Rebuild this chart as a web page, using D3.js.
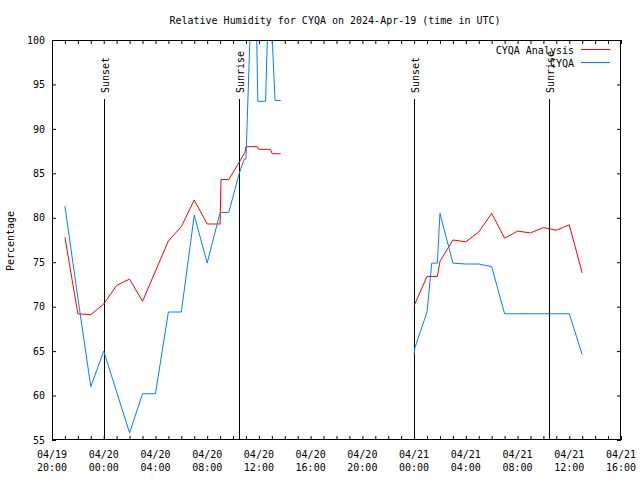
<!DOCTYPE html>
<html><head><meta charset="utf-8">
<script src="https://cdn.jsdelivr.net/npm/d3@7"></script>
<style>
body{margin:0;background:#fff;}
text{font-family:"DejaVu Sans Mono","Liberation Mono",monospace;font-size:10px;fill:#000;}
</style></head>
<body><svg id="c" width="640" height="480"></svg>
<script>
const title = "Relative Humidity for CYQA on 2024-Apr-19 (time in UTC)";
const yLabel = "Percentage";
const seriesNames = ["CYQA Analysis", "CYQA"];
const seriesColors = ["#ff0000", "#0080ff"];
const xStart = "2024-04-19T20:00Z", xEnd = "2024-04-21T16:00Z";
const yTicks = [55, 60, 65, 70, 75, 80, 85, 90, 95, 100];
const sunEvents = [["Sunset", "2024-04-20T00:02Z"], ["Sunrise", "2024-04-20T10:28Z"],
                   ["Sunset", "2024-04-21T00:02Z"], ["Sunrise", "2024-04-21T10:26Z"]];

// Analysis (red); null breaks the line
const analysisTimes = [
 "2024-04-19T21:00Z","2024-04-19T22:00Z","2024-04-19T23:00Z","2024-04-20T00:00Z","2024-04-20T01:00Z",
 "2024-04-20T02:00Z","2024-04-20T03:00Z","2024-04-20T04:00Z","2024-04-20T05:00Z","2024-04-20T06:00Z",
 "2024-04-20T07:00Z","2024-04-20T08:00Z","2024-04-20T09:00Z","2024-04-20T09:04Z","2024-04-20T09:40Z",
 "2024-04-20T10:30Z","2024-04-20T10:56Z","2024-04-20T11:00Z","2024-04-20T11:53Z","2024-04-20T12:00Z",
 "2024-04-20T12:54Z","2024-04-20T13:02Z","2024-04-20T13:41Z",
 "2024-04-20T18:00Z",
 "2024-04-21T00:00Z","2024-04-21T01:00Z","2024-04-21T01:48Z","2024-04-21T02:00Z","2024-04-21T03:00Z",
 "2024-04-21T04:00Z","2024-04-21T05:00Z","2024-04-21T06:00Z","2024-04-21T07:00Z","2024-04-21T08:00Z",
 "2024-04-21T09:00Z","2024-04-21T10:00Z","2024-04-21T11:00Z","2024-04-21T12:00Z","2024-04-21T13:00Z"];
const analysisValues = [
 77.8,69.2,69.1,70.3,72.4,
 73.1,70.6,74.0,77.4,79.0,
 82.0,79.3,79.3,84.3,84.3,
 86.3,87.4,88.0,88.0,87.7,
 87.7,87.2,87.2,
 null,
 70.1,73.4,73.4,75.1,77.5,
 77.3,78.4,80.5,77.7,78.5,
 78.3,78.9,78.6,79.2,73.8];

// Observations (blue)
const obsTimes = [
 "2024-04-19T21:00Z","2024-04-19T21:04Z","2024-04-19T22:00Z","2024-04-19T23:00Z","2024-04-20T00:00Z",
 "2024-04-20T01:00Z","2024-04-20T02:00Z","2024-04-20T03:00Z","2024-04-20T04:00Z","2024-04-20T05:00Z",
 "2024-04-20T06:00Z","2024-04-20T07:00Z","2024-04-20T08:00Z","2024-04-20T09:00Z","2024-04-20T09:40Z",
 "2024-04-20T10:30Z","2024-04-20T10:52Z","2024-04-20T11:00Z","2024-04-20T11:18Z","2024-04-20T11:50Z",
 "2024-04-20T11:55Z","2024-04-20T12:31Z","2024-04-20T12:39Z","2024-04-20T13:02Z","2024-04-20T13:15Z",
 "2024-04-20T13:41Z",
 "2024-04-20T18:00Z",
 "2024-04-21T00:00Z","2024-04-21T00:04Z","2024-04-21T01:00Z","2024-04-21T01:22Z","2024-04-21T01:48Z",
 "2024-04-21T02:00Z","2024-04-21T03:00Z","2024-04-21T04:00Z","2024-04-21T05:00Z","2024-04-21T06:00Z",
 "2024-04-21T07:00Z","2024-04-21T08:00Z","2024-04-21T09:00Z","2024-04-21T10:00Z","2024-04-21T11:00Z",
 "2024-04-21T12:00Z","2024-04-21T13:00Z"];
const obsValues = [
 81.3,80.6,71.0,61.0,65.0,
 60.4,55.8,60.2,60.2,69.4,
 69.4,80.3,74.9,80.6,80.6,
 85.1,86.6,86.6,100,100,
 93.1,93.1,100,100,93.2,
 93.2,
 null,
 64.6,65.4,69.4,74.9,74.9,
 80.5,74.9,74.8,74.8,74.5,
 69.2,69.2,69.2,69.2,69.2,
 69.2,64.6];

const svg = d3.select("#c");
const L = 52, R = 621, T = 40, B = 440;
const x = d3.scaleUtc().domain([new Date(xStart), new Date(xEnd)]).range([L, R]);
const y = d3.scaleLinear().domain([55, 100]).range([B, T]);

svg.append("defs").append("clipPath").attr("id","clip")
  .append("rect").attr("x", L).attr("y", T).attr("width", R - L).attr("height", B - T);

// Title
svg.append("text").attr("x", 335).attr("y", 24).attr("text-anchor","middle").text(title);

// Y axis left + right
const gl = svg.append("g").attr("transform", `translate(${L},0)`)
  .call(d3.axisLeft(y).tickValues(yTicks).tickSize(-4).tickPadding(7).tickFormat(d3.format("d")));
gl.select(".domain").remove();
gl.selectAll("text").attr("font-family", null).attr("font-size", null);
const gr = svg.append("g").attr("transform", `translate(${R},0)`)
  .call(d3.axisRight(y).tickValues(yTicks).tickSize(-4).tickFormat(""));
gr.select(".domain").remove();

// X axis bottom + top (hourly ticks)
const gb = svg.append("g").attr("transform", `translate(0,${B})`)
  .call(d3.axisBottom(x).ticks(d3.utcHour.every(1)).tickSize(-4).tickFormat(""));
gb.select(".domain").remove();
const gt = svg.append("g").attr("transform", `translate(0,${T})`)
  .call(d3.axisTop(x).ticks(d3.utcHour.every(1)).tickSize(-4).tickFormat(""));
gt.select(".domain").remove();

// X labels every 4 h, two lines
const fmtD = d3.utcFormat("%m/%d"), fmtH = d3.utcFormat("%H:%M");
const labelTicks = x.ticks(d3.utcHour.every(4));
const xl = svg.append("g");
labelTicks.forEach(t => {
  const tx = xl.append("text").attr("x", x(t)).attr("text-anchor","middle");
  tx.append("tspan").attr("x", x(t)).attr("y", 458).text(fmtD(t));
  tx.append("tspan").attr("x", x(t)).attr("y", 471).text(fmtH(t));
});

// Y label
svg.append("text").attr("transform","translate(14,241) rotate(-90)").attr("text-anchor","middle").text(yLabel);

// Sun events
sunEvents.forEach(([name, t]) => {
  const sx = Math.floor(x(new Date(t))) + 0.5;
  svg.append("line").attr("x1", sx).attr("x2", sx).attr("y1", 99).attr("y2", B)
    .attr("stroke","#000").attr("stroke-width",1);
  svg.append("text").attr("transform", `translate(${sx + 4.5},93) rotate(-90)`).attr("text-anchor","start").text(name);
});

// Lines
const mk = (times, vals) => times.map((t, i) => ({t: new Date(t), v: vals[i]}));
const line = d3.line().defined(d => d.v !== null).x(d => x(d.t)).y(d => y(d.v));
const plot = svg.append("g").attr("clip-path","url(#clip)");
plot.append("path").datum(mk(analysisTimes, analysisValues)).attr("d", line)
  .attr("fill","none").attr("stroke", seriesColors[0]).attr("stroke-width", 1);
plot.append("path").datum(mk(obsTimes, obsValues)).attr("d", line)
  .attr("fill","none").attr("stroke", seriesColors[1]).attr("stroke-width", 1);

// Border
svg.append("rect").attr("x", L + 0.5).attr("y", T + 0.5).attr("width", R - L - 1).attr("height", B - T - 1)
  .attr("fill","none").attr("stroke","#000").attr("stroke-width",1).attr("shape-rendering","crispEdges");

// Legend
seriesNames.forEach((n, i) => {
  const ly = 49.5 + i * 13;
  svg.append("text").attr("x", 574).attr("y", ly + 4).attr("text-anchor","end").text(n);
  svg.append("line").attr("x1", 581).attr("x2", 610).attr("y1", ly).attr("y2", ly)
    .attr("stroke", seriesColors[i]).attr("stroke-width", 1);
});
</script></body></html>
